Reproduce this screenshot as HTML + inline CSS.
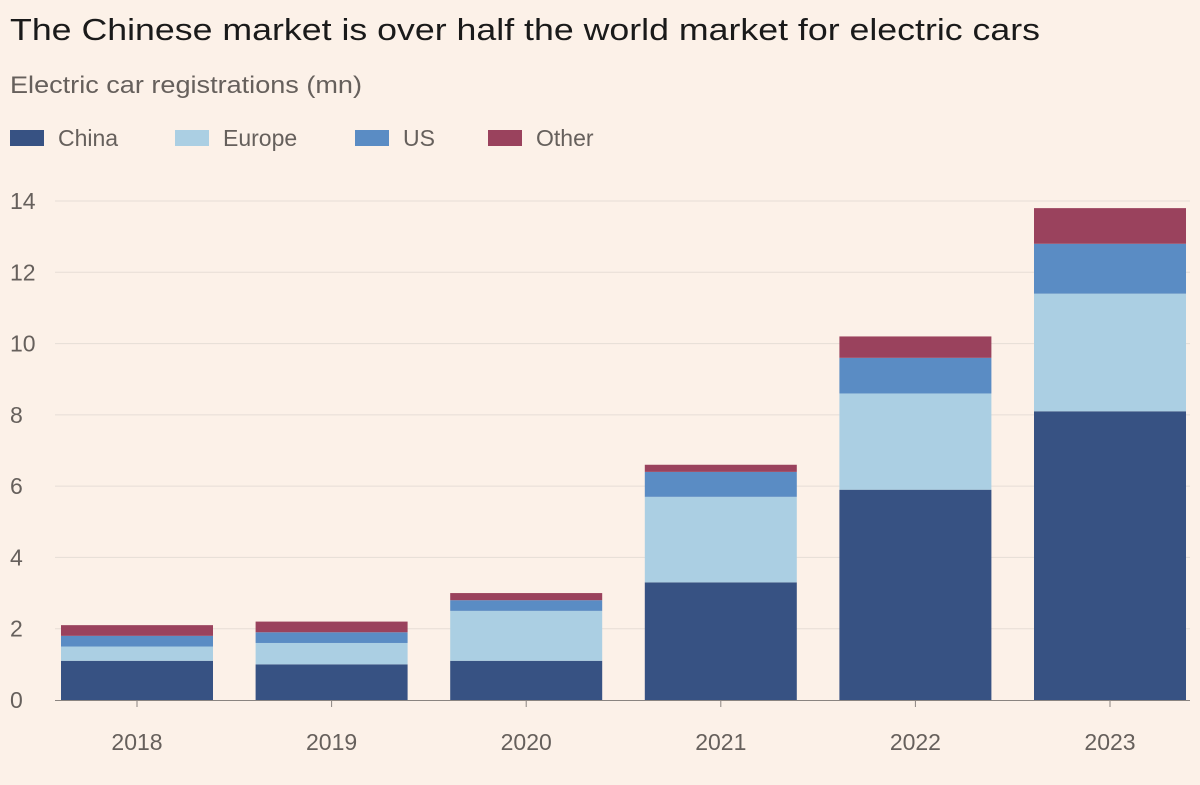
<!DOCTYPE html>
<html><head><meta charset="utf-8"><style>
body{margin:0;background:#fcf1e8;font-family:"Liberation Sans",sans-serif;}
svg text{font-family:"Liberation Sans",sans-serif;}
</style></head><body>
<svg width="1200" height="780" xmlns="http://www.w3.org/2000/svg">
<rect width="1200" height="780" fill="#fcf1e8"/>
<text x="10" y="40" font-size="31" fill="#1a1a1a" textLength="1030" lengthAdjust="spacingAndGlyphs">The Chinese market is over half the world market for electric cars</text>
<text x="10" y="93" font-size="24" fill="#66605c" textLength="352" lengthAdjust="spacingAndGlyphs">Electric car registrations (mn)</text>
<g id="legend"></g>
<g id="grid"></g>
<g id="bars"></g>
<g id="xaxis"></g>
</svg>
<script>
const years=["2018","2019","2020","2021","2022","2023"];
const china=[1.1,1.0,1.1,3.3,5.9,8.1];
const europe=[0.4,0.6,1.4,2.4,2.7,3.3];
const us=[0.3,0.3,0.3,0.7,1.0,1.4];
const other=[0.3,0.3,0.2,0.2,0.6,1.0];
const yTicks=[0,2,4,6,8,10,12,14];
const seriesNames=["China","Europe","US","Other"];
const colors=["#375283","#abcfe3","#5a8cc4","#9a425d"];
const NS="http://www.w3.org/2000/svg";
const y0=700,yTop=201,yMax=14;
function y(v){return y0-(y0-yTop)*v/yMax;}
function xs(i){return 61+i*194.6;}
const bw=152;
function mk(tag,attrs,parent){const e=document.createElementNS(NS,tag);for(const k in attrs)e.setAttribute(k,attrs[k]);parent.appendChild(e);return e;}
const grid=document.getElementById('grid');
yTicks.forEach(t=>{
 if(t>0){const l=mk('line',{x1:55,x2:1190,y1:y(t),y2:y(t),stroke:'#e6ddd6','stroke-width':1},grid);
 
 }
 const tx=mk('text',{x:10,y:y(t)+8,'font-size':23,fill:'#66605c'},grid);tx.textContent=t;
 
 
});
const lg=document.getElementById('legend');
const lx=[10,175,355,488];
seriesNames.forEach((n,i)=>{
 const r=mk('rect',{x:lx[i],y:130,width:34,height:16,fill:colors[i]},lg);
 
 
 const t=mk('text',{x:lx[i]+48,y:146,'font-size':23,fill:'#66605c'},lg);t.textContent=n;
 
 
});
const bars=document.getElementById('bars');
const data=[china,europe,us,other];
years.forEach((yr,i)=>{
 let base=0;
 data.forEach((s,k)=>{
  const top=base+s[i];
  const r=mk('rect',{x:xs(i),y:y(top),width:bw,height:y(base)-y(top),fill:colors[k]},bars);
  
  
  base=top;
 });
});
const xa=document.getElementById('xaxis');
const al=mk('line',{x1:55,x2:1190,y1:700.5,y2:700.5,stroke:'#8a8480','stroke-width':1},xa);


years.forEach((yr,i)=>{
 const cx=xs(i)+bw/2;
 const tk=mk('line',{x1:cx,x2:cx,y1:700,y2:707,stroke:'#8a8480'},xa);
 
 
 const t=mk('text',{x:cx,y:750,'font-size':23,fill:'#66605c','text-anchor':'middle'},xa);t.textContent=yr;
 
 
});
</script>
</body></html>
